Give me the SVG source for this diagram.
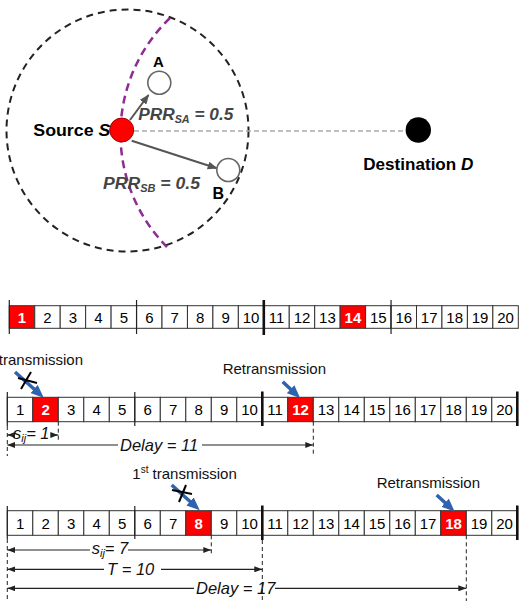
<svg xmlns="http://www.w3.org/2000/svg" width="520" height="601" viewBox="0 0 520 601">
  <style>
    .lbl { font-family: "Liberation Sans", Arial, sans-serif; fill: #000; }
    .bold { font-weight: bold; }
    .prr { font-family: "Liberation Sans", Arial, sans-serif; font-weight: bold; font-style: italic; fill: #444; font-size: 16px; }
    .cell { fill: #fff; stroke: #333; stroke-width: 1; }
    .hit { fill: #ff0000; stroke: #333; stroke-width: 1; }
    .num { font-family: "Liberation Sans", Arial, sans-serif; font-size: 15px; text-anchor: middle; fill: #000; }
    .numw { font-family: "Liberation Sans", Arial, sans-serif; font-size: 15px; text-anchor: middle; fill: #fff; font-weight: bold; }
    .tick { stroke: #222; stroke-width: 1.2; }
    .thick { stroke: #111; stroke-width: 2.6; }
    .guide { stroke: #222; stroke-width: 1; stroke-dasharray: 4 3; fill: none; }
    .dim { stroke: #222; stroke-width: 1.2; fill: none; }
    .dimtxt { font-family: "Liberation Sans", Arial, sans-serif; font-style: italic; font-size: 16.5px; fill: #111; }
    .cap { font-family: "Liberation Sans", Arial, sans-serif; font-size: 15px; fill: #111; }
    .blue { stroke: #2f63ad; stroke-width: 3.5; fill: none; }
    .cross { stroke: #000; stroke-width: 2; }
  </style>
  <defs>
    <marker id="grayHead" markerUnits="userSpaceOnUse" viewBox="0 0 10 8" refX="9" refY="4" markerWidth="10" markerHeight="8" orient="auto">
      <path d="M0,0 L10,4 L0,8 z" fill="#555"/>
    </marker>
    <marker id="dimHead" markerUnits="userSpaceOnUse" viewBox="0 0 8 6" refX="8" refY="3" markerWidth="8" markerHeight="6" orient="auto-start-reverse">
      <path d="M0,0 L8,3 L0,6 z" fill="#222"/>
    </marker>
    <marker id="blueHead" markerUnits="userSpaceOnUse" viewBox="0 0 13 11" refX="6" refY="5.5" markerWidth="13" markerHeight="11" orient="auto">
      <path d="M0,0 L13,5.5 L0,11 z" fill="#2f63ad"/>
    </marker>
  </defs>

  <!-- coverage range of the source -->
  <circle cx="127.5" cy="130.5" r="121" fill="none" stroke="#222" stroke-width="2" stroke-dasharray="7 5"/>
  <path d="M170,18 A160.6,160.6 0 0 0 167,247" fill="none" stroke="#8e2c91" stroke-width="2.5" stroke-dasharray="8 5"/>

  <g id="connectors">
    <line x1="134" y1="131" x2="405" y2="131" stroke="#aaa" stroke-width="1.5" stroke-dasharray="5 3"/>
    <line x1="130" y1="120" x2="148.5" y2="95" stroke="#555" stroke-width="2" marker-end="url(#grayHead)"/>
    <line x1="131.7" y1="140.7" x2="216.7" y2="168.3" stroke="#555" stroke-width="2" marker-end="url(#grayHead)"/>
    <text class="prr" x="138.3" y="120" textLength="95" lengthAdjust="spacingAndGlyphs">PRR<tspan font-size="10" dy="3">SA</tspan><tspan dy="-3"> = 0.5</tspan></text>
    <text class="prr" x="103" y="189.3" textLength="97" lengthAdjust="spacingAndGlyphs">PRR<tspan font-size="10" dy="3">SB</tspan><tspan dy="-3"> = 0.5</tspan></text>
  </g>

  <g id="source">
    <circle cx="121.7" cy="130" r="12" fill="#ff0000" stroke="#a00" stroke-width="1"/>
    <text class="lbl bold" x="33.3" y="136" font-size="16" textLength="77" lengthAdjust="spacingAndGlyphs">Source <tspan font-style="italic">S</tspan></text>
  </g>
  <g id="nodeA">
    <circle cx="159.3" cy="82.7" r="11.5" fill="#fff" stroke="#666" stroke-width="1.6"/>
    <text class="lbl bold" x="158.3" y="66.7" font-size="15" text-anchor="middle">A</text>
  </g>
  <g id="nodeB">
    <circle cx="228.3" cy="170" r="11.5" fill="#fff" stroke="#666" stroke-width="1.6"/>
    <text class="lbl bold" x="212.5" y="199" font-size="16">B</text>
  </g>
  <g id="destination">
    <circle cx="418.3" cy="130" r="12.7" fill="#000"/>
    <text class="lbl bold" x="363.3" y="170" font-size="17" textLength="110" lengthAdjust="spacingAndGlyphs">Destination <tspan font-style="italic">D</tspan></text>
  </g>

  <!-- timeline 1 -->
  <g id="row1">
    <rect class="hit" x="9.3" y="305.7" width="25.45" height="22.6"/>
    <rect class="cell" x="34.75" y="305.7" width="25.45" height="22.6"/>
    <rect class="cell" x="60.2" y="305.7" width="25.45" height="22.6"/>
    <rect class="cell" x="85.65" y="305.7" width="25.45" height="22.6"/>
    <rect class="cell" x="111.1" y="305.7" width="25.45" height="22.6"/>
    <rect class="cell" x="136.55" y="305.7" width="25.45" height="22.6"/>
    <rect class="cell" x="162" y="305.7" width="25.45" height="22.6"/>
    <rect class="cell" x="187.45" y="305.7" width="25.45" height="22.6"/>
    <rect class="cell" x="212.9" y="305.7" width="25.45" height="22.6"/>
    <rect class="cell" x="238.35" y="305.7" width="25.45" height="22.6"/>
    <rect class="cell" x="263.8" y="305.7" width="25.45" height="22.6"/>
    <rect class="cell" x="289.25" y="305.7" width="25.45" height="22.6"/>
    <rect class="cell" x="314.7" y="305.7" width="25.45" height="22.6"/>
    <rect class="hit" x="340.15" y="305.7" width="25.45" height="22.6"/>
    <rect class="cell" x="365.6" y="305.7" width="25.45" height="22.6"/>
    <rect class="cell" x="391.05" y="305.7" width="25.45" height="22.6"/>
    <rect class="cell" x="416.5" y="305.7" width="25.45" height="22.6"/>
    <rect class="cell" x="441.95" y="305.7" width="25.45" height="22.6"/>
    <rect class="cell" x="467.4" y="305.7" width="25.45" height="22.6"/>
    <rect class="cell" x="492.85" y="305.7" width="25.45" height="22.6"/>
    <line class="tick" x1="9.3" y1="300" x2="9.3" y2="334"/>
    <line class="tick" x1="136.55" y1="300" x2="136.55" y2="334"/>
    <line class="thick" x1="263.8" y1="300" x2="263.8" y2="335"/>
    <line class="tick" x1="391.05" y1="300" x2="391.05" y2="334"/>
    <text class="numw" x="22" y="322.5">1</text>
    <text class="num" x="47.5" y="322.5">2</text>
    <text class="num" x="72.9" y="322.5">3</text>
    <text class="num" x="98.4" y="322.5">4</text>
    <text class="num" x="123.8" y="322.5">5</text>
    <text class="num" x="149.3" y="322.5">6</text>
    <text class="num" x="174.7" y="322.5">7</text>
    <text class="num" x="200.2" y="322.5">8</text>
    <text class="num" x="225.6" y="322.5">9</text>
    <text class="num" x="251.1" y="322.5">10</text>
    <text class="num" x="276.5" y="322.5">11</text>
    <text class="num" x="302" y="322.5">12</text>
    <text class="num" x="327.4" y="322.5">13</text>
    <text class="numw" x="352.9" y="322.5">14</text>
    <text class="num" x="378.3" y="322.5">15</text>
    <text class="num" x="403.8" y="322.5">16</text>
    <text class="num" x="429.2" y="322.5">17</text>
    <text class="num" x="454.7" y="322.5">18</text>
    <text class="num" x="480.1" y="322.5">19</text>
    <text class="num" x="505.6" y="322.5">20</text>
  </g>

  <!-- timeline 2 -->
  <g id="row2">
    <text class="cap" x="83" y="365" text-anchor="end">transmission</text>
    <text class="cap" x="222.7" y="374">Retransmission</text>
    <rect class="cell" x="7.3" y="397.3" width="25.5" height="24.4"/>
    <rect class="hit" x="32.8" y="397.3" width="25.5" height="24.4"/>
    <rect class="cell" x="58.3" y="397.3" width="25.5" height="24.4"/>
    <rect class="cell" x="83.8" y="397.3" width="25.5" height="24.4"/>
    <rect class="cell" x="109.3" y="397.3" width="25.5" height="24.4"/>
    <rect class="cell" x="134.8" y="397.3" width="25.5" height="24.4"/>
    <rect class="cell" x="160.3" y="397.3" width="25.5" height="24.4"/>
    <rect class="cell" x="185.8" y="397.3" width="25.5" height="24.4"/>
    <rect class="cell" x="211.3" y="397.3" width="25.5" height="24.4"/>
    <rect class="cell" x="236.8" y="397.3" width="25.5" height="24.4"/>
    <rect class="cell" x="262.3" y="397.3" width="25.5" height="24.4"/>
    <rect class="hit" x="287.8" y="397.3" width="25.5" height="24.4"/>
    <rect class="cell" x="313.3" y="397.3" width="25.5" height="24.4"/>
    <rect class="cell" x="338.8" y="397.3" width="25.5" height="24.4"/>
    <rect class="cell" x="364.3" y="397.3" width="25.5" height="24.4"/>
    <rect class="cell" x="389.8" y="397.3" width="25.5" height="24.4"/>
    <rect class="cell" x="415.3" y="397.3" width="25.5" height="24.4"/>
    <rect class="cell" x="440.8" y="397.3" width="25.5" height="24.4"/>
    <rect class="cell" x="466.3" y="397.3" width="25.5" height="24.4"/>
    <rect class="cell" x="491.8" y="397.3" width="25.5" height="24.4"/>
    <line class="tick" x1="7.3" y1="392" x2="7.3" y2="426"/>
    <line class="tick" x1="134.8" y1="392" x2="134.8" y2="426"/>
    <line class="thick" x1="262.3" y1="391.5" x2="262.3" y2="426"/>
    <line class="thick" x1="517.3" y1="391.5" x2="517.3" y2="426"/>
    <text class="num" x="20.05" y="414.5">1</text>
    <text class="numw" x="45.55" y="414.5">2</text>
    <text class="num" x="71.05" y="414.5">3</text>
    <text class="num" x="96.55" y="414.5">4</text>
    <text class="num" x="122.05" y="414.5">5</text>
    <text class="num" x="147.55" y="414.5">6</text>
    <text class="num" x="173.05" y="414.5">7</text>
    <text class="num" x="198.55" y="414.5">8</text>
    <text class="num" x="224.05" y="414.5">9</text>
    <text class="num" x="249.55" y="414.5">10</text>
    <text class="num" x="275.05" y="414.5">11</text>
    <text class="numw" x="300.55" y="414.5">12</text>
    <text class="num" x="326.05" y="414.5">13</text>
    <text class="num" x="351.55" y="414.5">14</text>
    <text class="num" x="377.05" y="414.5">15</text>
    <text class="num" x="402.55" y="414.5">16</text>
    <text class="num" x="428.05" y="414.5">17</text>
    <text class="num" x="453.55" y="414.5">18</text>
    <text class="num" x="479.05" y="414.5">19</text>
    <text class="num" x="504.55" y="414.5">20</text>
    <!-- failed first attempt and retransmission -->
    <line class="blue" x1="15" y1="372" x2="38.5" y2="393" marker-end="url(#blueHead)"/>
    <line class="cross" x1="21" y1="389" x2="31" y2="372"/>
    <line class="cross" x1="18" y1="378" x2="37" y2="383"/>
    <line class="blue" x1="282.7" y1="381.7" x2="295" y2="393.3" marker-end="url(#blueHead)"/>
    <!-- spans -->
    <line class="guide" x1="7.3" y1="426" x2="7.3" y2="456"/>
    <line class="guide" x1="58.3" y1="421.7" x2="58.3" y2="441"/>
    <line class="guide" x1="313.3" y1="421.7" x2="313.3" y2="456"/>
    <line class="dim" x1="7.3" y1="435" x2="13" y2="435" marker-start="url(#dimHead)"/>
    <line class="dim" x1="52" y1="435" x2="58.3" y2="435" marker-end="url(#dimHead)"/>
    <text class="dimtxt" x="13" y="439">s<tspan font-size="11" dy="3">ij</tspan><tspan dy="-3">= 1</tspan></text>
    <line class="dim" x1="7.3" y1="445" x2="118" y2="445" marker-start="url(#dimHead)"/>
    <line class="dim" x1="202" y1="445" x2="313.3" y2="445" marker-end="url(#dimHead)"/>
    <text class="dimtxt" x="120" y="450.5">Delay = 11</text>
  </g>

  <!-- timeline 3 -->
  <g id="row3">
    <text class="cap" x="132.3" y="479">1<tspan font-size="10" dy="-6">st</tspan><tspan dy="6"> transmission</tspan></text>
    <text class="cap" x="376.7" y="488.3">Retransmission</text>
    <rect class="cell" x="7.3" y="510.7" width="25.5" height="24.6"/>
    <rect class="cell" x="32.8" y="510.7" width="25.5" height="24.6"/>
    <rect class="cell" x="58.3" y="510.7" width="25.5" height="24.6"/>
    <rect class="cell" x="83.8" y="510.7" width="25.5" height="24.6"/>
    <rect class="cell" x="109.3" y="510.7" width="25.5" height="24.6"/>
    <rect class="cell" x="134.8" y="510.7" width="25.5" height="24.6"/>
    <rect class="cell" x="160.3" y="510.7" width="25.5" height="24.6"/>
    <rect class="hit" x="185.8" y="510.7" width="25.5" height="24.6"/>
    <rect class="cell" x="211.3" y="510.7" width="25.5" height="24.6"/>
    <rect class="cell" x="236.8" y="510.7" width="25.5" height="24.6"/>
    <rect class="cell" x="262.3" y="510.7" width="25.5" height="24.6"/>
    <rect class="cell" x="287.8" y="510.7" width="25.5" height="24.6"/>
    <rect class="cell" x="313.3" y="510.7" width="25.5" height="24.6"/>
    <rect class="cell" x="338.8" y="510.7" width="25.5" height="24.6"/>
    <rect class="cell" x="364.3" y="510.7" width="25.5" height="24.6"/>
    <rect class="cell" x="389.8" y="510.7" width="25.5" height="24.6"/>
    <rect class="cell" x="415.3" y="510.7" width="25.5" height="24.6"/>
    <rect class="hit" x="440.8" y="510.7" width="25.5" height="24.6"/>
    <rect class="cell" x="466.3" y="510.7" width="25.5" height="24.6"/>
    <rect class="cell" x="491.8" y="510.7" width="25.5" height="24.6"/>
    <line class="tick" x1="7.3" y1="506" x2="7.3" y2="539"/>
    <line class="tick" x1="134.8" y1="506" x2="134.8" y2="539"/>
    <line class="thick" x1="262.3" y1="505.5" x2="262.3" y2="540"/>
    <line class="thick" x1="517.3" y1="505.5" x2="517.3" y2="540"/>
    <text class="num" x="20.05" y="528.5">1</text>
    <text class="num" x="45.55" y="528.5">2</text>
    <text class="num" x="71.05" y="528.5">3</text>
    <text class="num" x="96.55" y="528.5">4</text>
    <text class="num" x="122.05" y="528.5">5</text>
    <text class="num" x="147.55" y="528.5">6</text>
    <text class="num" x="173.05" y="528.5">7</text>
    <text class="numw" x="198.55" y="528.5">8</text>
    <text class="num" x="224.05" y="528.5">9</text>
    <text class="num" x="249.55" y="528.5">10</text>
    <text class="num" x="275.05" y="528.5">11</text>
    <text class="num" x="300.55" y="528.5">12</text>
    <text class="num" x="326.05" y="528.5">13</text>
    <text class="num" x="351.55" y="528.5">14</text>
    <text class="num" x="377.05" y="528.5">15</text>
    <text class="num" x="402.55" y="528.5">16</text>
    <text class="num" x="428.05" y="528.5">17</text>
    <text class="numw" x="453.55" y="528.5">18</text>
    <text class="num" x="479.05" y="528.5">19</text>
    <text class="num" x="504.55" y="528.5">20</text>
    <!-- failed first attempt and retransmission -->
    <line class="blue" x1="171.7" y1="485" x2="194.5" y2="505.5" marker-end="url(#blueHead)"/>
    <line class="cross" x1="179" y1="502" x2="186" y2="485"/>
    <line class="cross" x1="172" y1="490" x2="192" y2="494"/>
    <line class="blue" x1="436.7" y1="495" x2="449.5" y2="506.8" marker-end="url(#blueHead)"/>
    <!-- spans -->
    <line class="guide" x1="7.3" y1="539" x2="7.3" y2="601"/>
    <line class="guide" x1="211.3" y1="535.3" x2="211.3" y2="556"/>
    <line class="guide" x1="262.3" y1="540" x2="262.3" y2="601"/>
    <line class="guide" x1="466.3" y1="535.3" x2="466.3" y2="601"/>
    <line class="dim" x1="7.3" y1="550" x2="90" y2="550" marker-start="url(#dimHead)"/>
    <line class="dim" x1="128" y1="550" x2="211.3" y2="550" marker-end="url(#dimHead)"/>
    <text class="dimtxt" x="91.7" y="554">s<tspan font-size="11" dy="3">ij</tspan><tspan dy="-3">= 7</tspan></text>
    <line class="dim" x1="7.3" y1="569.3" x2="104" y2="569.3" marker-start="url(#dimHead)"/>
    <line class="dim" x1="161" y1="569.3" x2="262.3" y2="569.3" marker-end="url(#dimHead)"/>
    <text class="dimtxt" x="107" y="574.5" font-size="17.5">T = 10</text>
    <line class="dim" x1="7.3" y1="588.3" x2="194" y2="588.3" marker-start="url(#dimHead)"/>
    <line class="dim" x1="275" y1="588.3" x2="466.3" y2="588.3" marker-end="url(#dimHead)"/>
    <text class="dimtxt" x="196" y="593.8">Delay = 17</text>
  </g>
</svg>
